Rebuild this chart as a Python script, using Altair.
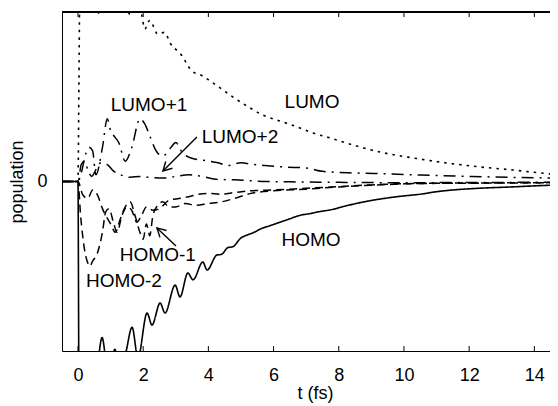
import altair as alt
import pandas as pd

FONT = "Liberation Sans"
W, H = 488, 339

# (t in fs, population)
HOMO = [(-0.49, 0), (0.0, 0), (0.03, -1.2), (0.1, -1.5), (0.3, -1.4), (0.5, -1.2), (0.62, -1.05),
        (0.74, -0.92), (0.86, -1.05), (1.0, -1.1), (1.13, -0.99), (1.25, -1.08), (1.45, -1.02),
        (1.66, -0.86), (1.84, -1.04), (2.12, -0.776), (2.27, -0.847), (2.52, -0.717), (2.67, -0.776),
        (2.98, -0.611), (3.13, -0.681), (3.37, -0.54), (3.53, -0.58), (3.83, -0.475), (3.96, -0.522),
        (4.26, -0.434), (4.4, -0.43), (4.6, -0.39), (4.75, -0.385), (5.0, -0.333), (5.2, -0.315),
        (5.4, -0.3), (5.6, -0.28), (5.9, -0.26), (6.2, -0.24), (6.5, -0.22), (6.8, -0.2), (7.1, -0.19),
        (7.4, -0.178), (7.8, -0.165), (8.2, -0.145), (8.6, -0.127), (9.0, -0.112), (9.5, -0.097),
        (10.0, -0.085), (10.5, -0.075), (11.0, -0.06), (11.5, -0.05), (12.3, -0.04), (13.3, -0.032),
        (14.7, -0.021), (15.0, -0.02)]

LUMO = [(-0.49, 0), (0.0, 0), (0.03, 0.6), (0.06, 1.2), (0.2, 1.4), (0.45, 1.15), (0.67, 0.985),
        (0.85, 1.12), (1.2, 1.2), (1.45, 1.05), (1.6, 0.985), (1.75, 1.03), (1.95, 0.985), (2.05, 0.9),
        (2.2, 0.95), (2.45, 0.87), (2.65, 0.88), (2.85, 0.81), (3.05, 0.77), (3.2, 0.74), (3.35, 0.69),
        (3.5, 0.65), (3.75, 0.63), (3.96, 0.605), (4.15, 0.58), (4.36, 0.552), (4.75, 0.499),
        (5.28, 0.434), (5.67, 0.392), (6.2, 0.357), (6.72, 0.322), (7.21, 0.286), (7.73, 0.257),
        (8.44, 0.215), (9.26, 0.174), (10.28, 0.139), (11.32, 0.109), (12.33, 0.086), (13.34, 0.068),
        (14.57, 0.044), (15.0, 0.04)]

LUMO1 = [(-0.49, 0), (0.0, 0), (0.1, 0.05), (0.25, 0.17), (0.35, 0.2), (0.45, 0.18), (0.55, 0.04),
         (0.75, 0.2), (0.9, 0.37), (1.0, 0.3), (1.1, 0.27), (1.25, 0.23), (1.45, 0.12), (1.65, 0.2),
         (1.9, 0.37), (2.05, 0.34), (2.2, 0.27), (2.4, 0.18), (2.6, 0.15), (2.85, 0.2), (3.0, 0.23),
         (3.2, 0.17), (3.45, 0.14), (3.85, 0.125), (4.3, 0.11), (4.6, 0.095), (5.0, 0.11), (5.4, 0.1),
         (5.7, 0.095), (6.4, 0.085), (7.0, 0.08), (7.5, 0.06), (8.5, 0.05), (9.5, 0.045),
         (10.5, 0.038), (12.0, 0.03), (14.0, 0.022), (15.0, 0.02)]

LUMO2 = [(-0.49, 0), (0.0, 0), (0.1, 0.1), (0.2, 0.12), (0.3, 0.07), (0.42, 0.03), (0.55, 0.07),
         (0.7, 0.11), (0.9, 0.1), (1.1, 0.06), (1.3, 0.04), (1.6, 0.025), (1.9, 0.03), (2.2, 0.025),
         (2.6, 0.02), (3.0, 0.03), (3.4, 0.04), (3.8, 0.03), (4.3, 0.012), (4.8, 0.01), (5.5, 0.002),
         (6.5, -0.002), (8.0, -0.005), (10.0, -0.007), (12.0, -0.006), (15.0, -0.004)]

HOMO1 = [(-0.49, 0), (0.0, 0), (0.15, -0.08), (0.3, -0.1), (0.45, -0.05), (0.6, -0.08), (0.75, -0.16),
         (0.85, -0.2), (1.0, -0.25), (1.15, -0.3), (1.3, -0.22), (1.45, -0.15), (1.6, -0.12),
         (1.75, -0.2), (1.9, -0.3), (2.0, -0.34), (2.1, -0.25), (2.2, -0.32), (2.3, -0.2),
         (2.45, -0.14), (2.6, -0.12), (2.8, -0.15), (3.0, -0.15), (3.3, -0.13), (3.6, -0.14),
         (4.0, -0.13), (4.4, -0.12), (4.8, -0.1), (5.3, -0.07), (6.0, -0.055), (7.0, -0.045),
         (8.0, -0.032), (9.0, -0.022), (10.0, -0.014), (11.0, -0.01), (13.0, -0.008), (15.0, -0.006)]

HOMO2 = [(-0.49, 0), (0.0, 0), (0.08, -0.2), (0.2, -0.4), (0.3, -0.48), (0.36, -0.5), (0.45, -0.47),
         (0.6, -0.42), (0.75, -0.3), (0.85, -0.18), (0.95, -0.16), (1.1, -0.25), (1.2, -0.3),
         (1.35, -0.2), (1.5, -0.15), (1.65, -0.17), (1.8, -0.24), (1.95, -0.2), (2.1, -0.15),
         (2.3, -0.17), (2.5, -0.16), (2.8, -0.11), (3.1, -0.1), (3.4, -0.09), (3.7, -0.075),
         (4.0, -0.07), (4.4, -0.075), (4.8, -0.065), (5.3, -0.055), (6.0, -0.05), (7.0, -0.04),
         (8.0, -0.03), (9.0, -0.02), (10.0, -0.013), (12.0, -0.01), (15.0, -0.007)]

X_TICKS = [0, 2, 4, 6, 8, 10, 12, 14]
Y_TICKS = [0]

LABELS = ["LUMO+1", "LUMO", "LUMO+2", "HOMO", "HOMO-1", "HOMO-2"]
LABEL_T = [2.18, 7.18, 4.97, 7.15, 2.45, 1.41]
LABEL_V = [0.451, 0.469, 0.26, -0.345, -0.434, -0.587]

# arrows: tail -> head
ARROW_T0 = [3.65, 3.006]
ARROW_V0 = [0.2625, -0.3805]
ARROW_T1 = [2.607, 2.423]
ARROW_V1 = [0.062, -0.274]
ARROW_ANGLE = [135, 223.5]

xs = alt.Scale(domain=[-0.49, 14.48], nice=False, zero=False)
ys = alt.Scale(domain=[-1, 1], nice=False, zero=False)

xaxis = alt.Axis(values=X_TICKS, format="d", grid=False, ticks=False, tickSize=0,
                 domainColor="black", domainWidth=1, labelFont=FONT, labelFontSize=18,
                 labelColor="black", labelPadding=15, labelFlush=False, title="t (fs)",
                 titleFont=FONT, titleFontSize=18, titleFontWeight="normal", titleColor="black",
                 titlePadding=0, titleX=253)
yaxis = alt.Axis(values=Y_TICKS, format="d", grid=False, ticks=False, tickSize=0,
                 domainColor="black", domainWidth=1, labelFont=FONT, labelFontSize=18,
                 labelColor="black", labelPadding=15, title="population", titleFont=FONT,
                 titleFontSize=18, titleFontWeight="normal", titleColor="black", titlePadding=10)


def X(field):
    return alt.X(field, scale=xs, axis=xaxis)


def Y(field):
    return alt.Y(field, scale=ys, axis=yaxis)


styles = [
    (HOMO, [1, 0], 1.6),
    (LUMO, [2.5, 5], 1.6),
    (LUMO1, [12, 6, 2, 6], 1.5),
    (LUMO2, [12, 6, 2, 6], 1.5),
    (HOMO1, [8, 5], 1.5),
    (HOMO2, [8, 5], 1.5),
]

layers = []
for pts, dash, sw in styles:
    df = pd.DataFrame(pts, columns=["t", "v"])
    layers.append(
        alt.Chart(df).mark_line(color="black", strokeDash=dash, strokeWidth=sw, clip=True,
                                interpolate="monotone")
        .encode(x=X("t:Q"), y=Y("v:Q"))
    )

tick_df = pd.DataFrame({"t": X_TICKS})
bottom_ticks = alt.Chart(tick_df).mark_rule(color="black", strokeWidth=1).encode(
    x=X("t:Q"), y=alt.value(H), y2=alt.value(H - 5))
top_ticks = alt.Chart(tick_df).mark_rule(color="black", strokeWidth=1).encode(
    x=X("t:Q"), y=alt.value(0), y2=alt.value(5))
ytick_df = pd.DataFrame({"v": Y_TICKS})
left_ticks = alt.Chart(ytick_df).mark_rule(color="black", strokeWidth=1).encode(
    y=Y("v:Q"), x=alt.value(0), x2=alt.value(5))
top_border = alt.Chart(tick_df).mark_rule(color="black", strokeWidth=1).encode(
    x=alt.value(0), x2=alt.value(W), y=alt.value(0))

lab_df = pd.DataFrame({"label": LABELS, "t": LABEL_T, "v": LABEL_V})
labels = alt.Chart(lab_df).mark_text(font=FONT, fontSize=19, color="black", align="center",
                                     baseline="middle").encode(
    x=X("t:Q"), y=Y("v:Q"), text="label:N")

arr_df = pd.DataFrame({"t": ARROW_T0, "v": ARROW_V0, "t1": ARROW_T1, "v1": ARROW_V1,
                       "ang": ARROW_ANGLE})
arrow_lines = alt.Chart(arr_df).mark_rule(color="black", strokeWidth=1.4).encode(
    x=X("t:Q"), x2="t1:Q", y=Y("v:Q"), y2="v1:Q")
arrow_heads = alt.Chart(arr_df).mark_point(shape="M-1,-0.55L0,0L-1,0.55", filled=False,
                                           color="black", strokeWidth=1.4, size=300,
                                           opacity=1).encode(
    x=X("t1:Q"), y=Y("v1:Q"), angle=alt.Angle("ang:Q", scale=None))

chart = alt.layer(*layers, bottom_ticks, top_ticks, left_ticks, top_border, labels,
                  arrow_lines, arrow_heads).properties(
    width=W, height=H,
    autosize=alt.AutoSizeParams(type="none"),
    padding={"left": 54, "top": 4, "right": 0, "bottom": 55},
    background="white",
).configure_view(stroke=None)

chart.save("out.html", embed_options={"renderer": "svg", "actions": False})
